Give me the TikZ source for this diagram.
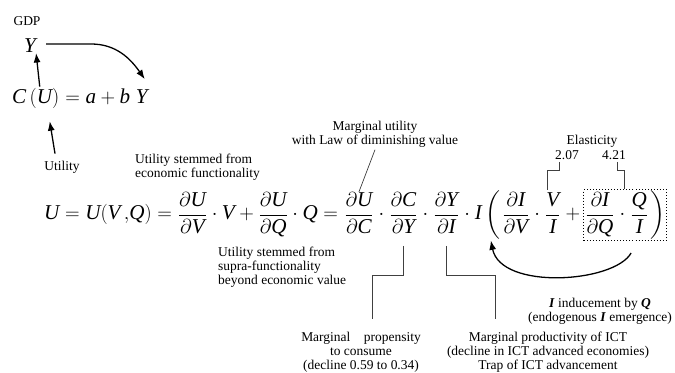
\documentclass[tikz,border=0pt]{standalone}
\usepackage{amsmath}
\usepackage{fontspec}
\setmainfont{Liberation Serif}
\usepackage{tikz}
\usetikzlibrary{arrows.meta, positioning, fit}
\newcommand{\ml}[1]{\mathit{#1}}
\newcommand{\bi}[1]{\textbf{\textit{#1}}}

\begin{document}
\begin{tikzpicture}[
  x=0.03cm, y=-0.03cm,
  note/.style={font=\fontsize{11.5}{12}\selectfont, align=center, inner sep=0pt},
  eqn/.style={font=\fontsize{18}{22}\selectfont, inner sep=0pt},
  part/.style={eqn, base right=0pt of #1},
  arrow/.style={-{Latex[length=8pt,width=6pt]}, line width=1.1pt},
  leader/.style={draw=black!75, line width=0.6pt},
  node distance=0pt
]
\useasboundingbox (0,0) rectangle (675,373);
% consumption function
\node[note] (gdp) at (27,21) {GDP};
\node[eqn] (gdpY) at (30,46) {$\ml{Y}$};
\node[eqn, anchor=base west] (cu) at (12,104) {$\ml{C}\,(\ml{U})$};
\node[part=cu] (rhs) {${}= \ml{a} + \ml{b}\;\ml{Y}$};
\node[note] (util) at (62,167) {Utility};
\draw[arrow] ([shift={(4,-2)}]cu.north) -- (gdpY.south east);
\draw[arrow] ([shift={(-7,-7)}]util.north) -- ([shift={(14,12)}]cu.south);
\draw[arrow] ([shift={(10,-2)}]gdpY.east) -- ++(45,0)
  to[out=0, in=125] ([shift={(-3,-10)}]rhs.north east);
% utility decomposition
\node[eqn, anchor=base west] (eqL) at (44,220)
  {$\ml{U} = \ml{U}(\ml{V}\,{,}\ml{Q}) = \dfrac{\partial \ml{U}}{\partial \ml{V}}\cdot \ml{V} + \dfrac{\partial \ml{U}}{\partial \ml{Q}}\cdot \ml{Q} ={}$};
\node[part=eqL] (fUC) {$\dfrac{\partial \ml{U}}{\partial \ml{C}}$};
\node[part=fUC] (d1) {${}\cdot{}$};
\node[part=d1] (fCY) {$\dfrac{\partial \ml{C}}{\partial \ml{Y}}$};
\node[part=fCY] (d2) {${}\cdot{}$};
\node[part=d2] (fYI) {$\dfrac{\partial \ml{Y}}{\partial \ml{I}}$};
\node[part=fYI] (d3) {${}\cdot{}$};
\node[part=d3] (ipar) {$\ml{I}\left(\vphantom{\dfrac{\partial I}{\partial V}}\right.$};
\node[part=ipar] (fIV) {$\dfrac{\partial \ml{I}}{\partial \ml{V}}$};
\node[part=fIV] (d4) {${}\cdot{}$};
\node[part=d4] (fVI) {$\dfrac{\ml{V}}{\ml{I}}$};
\node[part=fVI] (plus) {${}+{}$};
\node[part=plus] (fIQ) {$\dfrac{\partial \ml{I}}{\partial \ml{Q}}$};
\node[part=fIQ] (d5) {${}\cdot{}$};
\node[part=d5] (fQI) {$\dfrac{\ml{Q}}{\ml{I}}$};
\node[part=fQI] (rpar) {$\left.\vphantom{\dfrac{\partial I}{\partial V}}\right)$};
\node[draw, dotted, line width=0.6pt, fit=(fIQ)(rpar), inner sep=1pt] (qbox) {};
% labels
\node[note, align=left, anchor=west] (econ) at (135,167) {Utility stemmed from\\economic functionality};
\node[note, align=left, anchor=north west] (supra) at (218,247) {Utility stemmed from\\supra-functionality\\beyond economic value};
\node[note] (mu) at (375,134) {Marginal utility\\with Law of diminishing value};
\node[note] (elast) at (592,141) {Elasticity};
\node[note] (e1) at (567,155) {2.07};
\node[note] (e2) at (614,155) {4.21};
\node[note] (mpc) at (361,352) {Marginal\quad propensity\\to consume\\(decline 0.59 to 0.34)};
\node[note] (mpi) at (548,352) {Marginal productivity of ICT\\(decline in ICT advanced economies)\\Trap of ICT advancement};
\node[note] (ind) at (600,311) {\bi{I} inducement by \bi{Q}\\(endogenous \bi{I} emergence)};
% leaders
\draw[leader] ([yshift=-2pt]mu.south) -- (fUC.north);
\draw[leader] ([shift={(-8,2)}]e1.south) -- ++(0,9) -| ([shift={(-5,-2)}]fVI.north);
\draw[leader] ([shift={(3,2)}]e2.south) -- ++(0,9) -| ([xshift=-1pt]qbox.north);
\draw[leader] ([yshift=-10pt]fCY.south) -- ++(0,30) -| ([shift={(11,-13)}]mpc.north);
\draw[leader] ([yshift=-10pt]fYI.south) -- ++(0,30) -| ([shift={(-53,-13)}]mpi.north);
\draw[arrow] ([shift={(6,12)}]qbox.south) .. controls +(-17,30) and +(10,50) .. ([shift={(-11,1)}]ipar.south east);
\end{tikzpicture}
\end{document}
